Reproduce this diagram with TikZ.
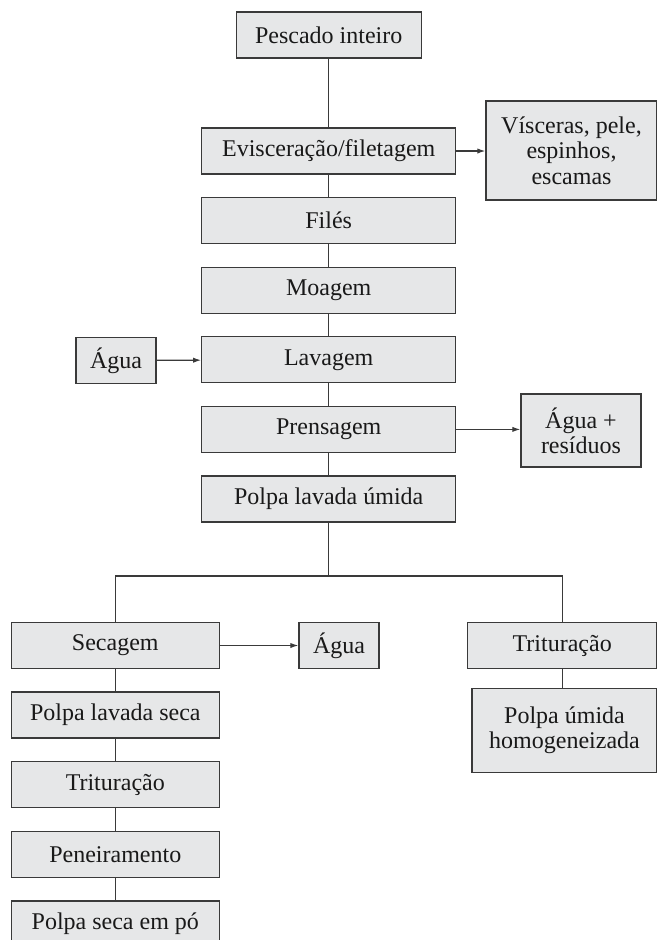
\documentclass[tikz,border=0pt]{standalone}
\usepackage{fontspec}
\setmainfont{Liberation Serif}
\usetikzlibrary{arrows.meta}
\definecolor{boxfill}{HTML}{E6E7E8}
\definecolor{boxline}{HTML}{3A3A3A}

\begin{document}
\begin{tikzpicture}[x=0.75pt, y=-0.75pt, node distance=52.2pt,
    stage/.style={rectangle, draw=boxline, fill=boxfill, line width=1pt, inner sep=0pt,
        minimum height=34.5pt, align=center, text=black!90,
        font=\fontsize{18}{19}\selectfont},
    mainbox/.style={stage, minimum width=190.5pt},
    leftbox/.style={stage, minimum width=156pt},
    link/.style={draw=boxline, line width=0.9pt},
    flow/.style={link, -{Latex[length=6pt,width=4pt]}}]
    \useasboundingbox (0,0) rectangle (657,940);
    \clip (0,0) rectangle (657,940);

    % main column
    \node[stage, minimum width=138.75pt] (pescado) at (328.7,35) {Pescado inteiro};
    \node[mainbox] (evisc) at (328.7,151) {Evisceração/filetagem};
    \node[mainbox] (files) [below of=evisc] {Filés};
    \node[mainbox] (moagem) [below of=files] {Moagem};
    \node[mainbox] (lavagem) [below of=moagem] {Lavagem};
    \node[mainbox] (prensagem) [below of=lavagem] {Prensagem};
    \node[mainbox] (polpaumida) [below of=prensagem] {Polpa lavada úmida};

    % side boxes
    \node[stage, minimum width=128.25pt, minimum height=74.25pt] (visceras) at (571.5,150.5) {Vísceras, pele,\\espinhos,\\escamas};
    \node[stage, minimum width=60pt] (agua1) at (116,360.4) {Água};
    \node[stage, minimum width=90pt, minimum height=54.75pt] (aguares) at (581,430.5) {Água +\\resíduos};

    % left branch
    \coordinate (split) at (328.7,576);
    \node[leftbox] (secagem) at (115.3,645.5) {Secagem};
    \node[leftbox] (polpaseca) [below of=secagem] {Polpa lavada seca};
    \node[leftbox] (trit1) [below of=polpaseca] {Trituração};
    \node[leftbox] (peneira) [below of=trit1] {Peneiramento};
    \node[leftbox] (po) [below of=peneira] {Polpa seca em pó};
    \node[stage, minimum width=60pt] (agua2) at (339,645.5) {Água};

    % right branch
    \node[stage, minimum width=142pt] (trit2) at (562.2,645.5) {Trituração};
    \node[stage, minimum width=138.75pt, minimum height=63pt] (polpahomog) at (564.5,730.3) {Polpa úmida\\homogeneizada};

    \path[link]
    (pescado) edge (evisc)
    (evisc) edge (files)
    (files) edge (moagem)
    (moagem) edge (lavagem)
    (lavagem) edge (prensagem)
    (prensagem) edge (polpaumida)
    (secagem) edge (polpaseca)
    (polpaseca) edge (trit1)
    (trit1) edge (peneira)
    (peneira) edge (po);
    \draw[link] (polpaumida) -- (split) -| (secagem);
    \draw[link] (split) -| (trit2);
    \draw[link] (trit2) -- (trit2.south |- polpahomog.north);

    \draw[flow] (evisc.east) -- (evisc.east -| visceras.west);
    \draw[flow] (agua1) -- (lavagem);
    \draw[flow] (prensagem) -- (prensagem.east -| aguares.west);
    \draw[flow] (secagem) -- (agua2);
\end{tikzpicture}
\end{document}
